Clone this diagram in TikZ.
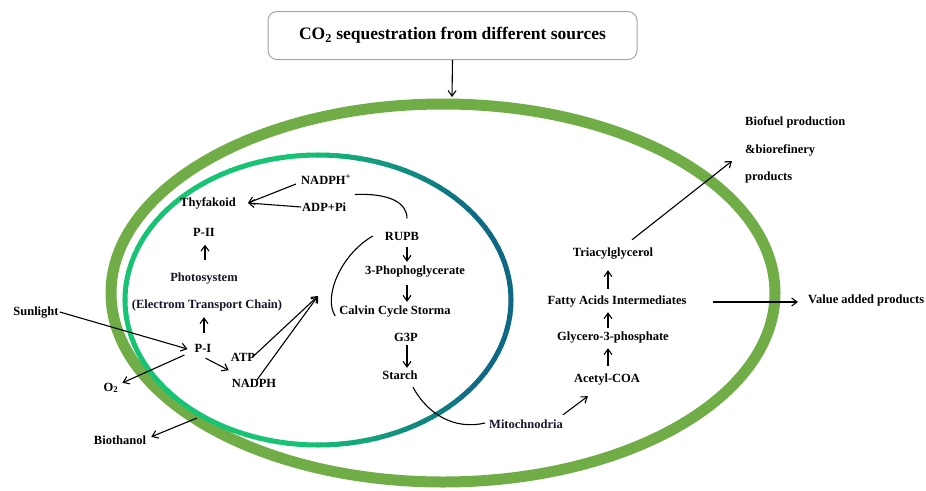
\documentclass[tikz,border=0pt]{standalone}
\usepackage{fontspec}
\setmainfont{Liberation Serif}
\usetikzlibrary{arrows.meta,calc}
\definecolor{outg}{RGB}{112,173,71}
\definecolor{ing}{RGB}{22,196,116}
\definecolor{inb}{RGB}{15,105,133}
\definecolor{navy}{RGB}{22,22,42}
\definecolor{boxgray}{RGB}{165,165,165}
\begin{document}
\begin{tikzpicture}[x=1pt,y=-1pt,
  lbl/.style={font=\fontsize{12.5}{14}\selectfont\bfseries, inner sep=1pt, text height=8.5pt, text depth=2.5pt},
  arr/.style={-{Straight Barb[length=5.5pt,width=8pt]}, line width=1.1pt},
  ln/.style={line width=1.1pt}]
\useasboundingbox (0,0) rectangle (926,490);
\fill[white] (0,0) rectangle (926,490);
% outer cell
\draw[outg, line width=11pt] (443,293) ellipse [x radius=332, y radius=189];
% inner chloroplast ring with gradient
\foreach \a in {0,3,...,357}{
  \pgfmathsetmacro{\xa}{318+193*cos(\a)}
  \pgfmathsetmacro{\ya}{300+145*sin(\a)}
  \pgfmathsetmacro{\xb}{318+193*cos(\a+3)}
  \pgfmathsetmacro{\yb}{300+145*sin(\a+3)}
  \pgfmathsetmacro{\p}{max(0,min(100,(480-0.5*(\xa+\xb))/1.8))}
  \draw[line width=5pt, line cap=round, color=ing!\p!inb] (\xa,\ya) -- (\xb,\yb);
}
% title
\node[draw=boxgray, line width=1pt, rounded corners=9pt, minimum width=369pt, minimum height=48pt, inner sep=0pt, font=\fontsize{17.5}{20}\selectfont\bfseries] (title) at (452.5,35.5) {CO\textsubscript{2} sequestration from different sources};
\coordinate (otop) at (452,97);
\draw[arr] (title.south) -- (otop);
% labels
\node[lbl, anchor=west] (nadphp) at (300,181) {NADPH\textsuperscript{+}};
\node[lbl] (thy) at (208,203) {Thyfakoid};
\node[lbl, anchor=west] (adp) at (301,208) {ADP+Pi};
\node[lbl] (p2) at (204,233) {P-II};
\node[lbl, text=navy] (photo) at (204,278) {Photosystem};
\node[lbl, text=navy] (etc) at (207,305) {(Electrom Transport Chain)};
\node[lbl] (pi) at (203,349) {P-I};
\node[lbl] (sun) at (36,312) {Sunlight};
\node[lbl] (o2) at (111,388) {O\textsubscript{2}};
\node[lbl] (atp) at (243,358) {ATP};
\node[lbl] (nadph) at (254,384) {NADPH};
\node[lbl] (bio) at (120,441) {Biothanol};
\node[lbl] (rupb) at (402,237) {RUPB};
\node[lbl] (pga) at (415,271) {3-Phophoglycerate};
\node[lbl] (calvin) at (395,311) {Calvin Cycle Storma};
\node[lbl] (g3p) at (406,338) {G3P};
\node[lbl] (starch) at (400,376) {Starch};
\node[lbl, text=navy] (mito) at (526,425) {Mitochnodria};
\node[lbl] (acetyl) at (607,379) {Acetyl-COA};
\node[lbl] (glyc) at (613,337) {Glycero-3-phosphate};
\node[lbl] (fatty) at (617,301) {Fatty Acids Intermediates};
\node[lbl] (tag) at (613,253) {Triacylglycerol};
\node[lbl, anchor=west] (bf1) at (744,122) {Biofuel production};
\node[lbl, anchor=west] (bf2) at (744,150) {\&biorefinery};
\node[lbl, anchor=west] (bf3) at (744,177) {products};
\node[lbl, anchor=west] (val) at (807,300) {Value added products};
% light reaction connectors
\draw[arr] ($(nadphp.west)+(-4,3)$) -- ($(thy.east)+(11,0)$);
\draw[arr] ($(adp.west)+(0,-1)$) -- ($(thy.east)+(11,0)$);
\draw[ln] ($(nadphp.east)!0.5!(adp.east)+(5,0)$) .. controls (390,193) and (407,203) .. ($(rupb.north)+(5,-12)$);
\draw[ln] ($(rupb.west)+(-11,-1)$) .. controls (340,255) and (323,298) .. ($(calvin.west)+(-3,5)$);
\draw[arr] ($(photo.north)+(1,-11)$) -- ($(p2.south)+(1,5)$);
\draw[arr] ($(pi.north)+(1,-9)$) -- ($(etc.south)+(-3,5.5)$);
\draw[arr] (sun.east) -- ($(pi.west)+(-6,0)$);
\draw[arr] ($(pi.west)+(-9,6)$) -- ($(o2.north east)+(3,1.5)$);
\draw[arr] ($(pi.south east)+(-7,2.5)$) -- ($(atp.south west)+(-1,5.5)$);
\coordinate (ctip) at (318,296);
\draw[arr] ($(atp.north east)+(-4,6)$) -- (ctip);
\draw[arr] ($(nadph.north)+(3,2.5)$) -- (ctip);
\coordinate (bstart) at (197,418);
\draw[arr] (bstart) -- ($(bio.north east)+(4,2.5)$);
% Calvin cycle chain
\draw[arr] ($(rupb.south)+(5,3.5)$) -- ($(pga.north)+(-8,-2.5)$);
\draw[arr] ($(pga.south)+(-8,7.5)$) -- ($(calvin.north)+(12,-2.5)$);
\draw[arr] ($(g3p.south)+(1,0.5)$) -- ($(starch.north)+(7,-1.5)$);
\draw[ln] ($(starch.south)+(13,4.5)$) .. controls (428,415) and (455,430) .. ($(mito.west)+(-3,-2)$);
% lipid chain
\draw[arr] ($(mito.north east)+(-1,-3.5)$) -- ($(acetyl.south west)+(15,10.5)$);
\draw[arr] ($(acetyl.north)+(1,-6.5)$) -- ($(glyc.south)+(-5,4.5)$);
\draw[arr] ($(glyc.north)+(-5,-2.5)$) -- ($(fatty.south)+(-9,4.5)$);
\draw[arr] ($(fatty.north)+(-9,-5.5)$) -- ($(tag.south)+(-5,10.5)$);
\draw[arr] ($(tag.north)+(19,-6.5)$) -- ($(bf3.west)+(-12,-16)$);
\draw[arr] ($(fatty.east)+(25,1)$) -- ($(val.west)+(-9,2)$);
\end{tikzpicture}
\end{document}
